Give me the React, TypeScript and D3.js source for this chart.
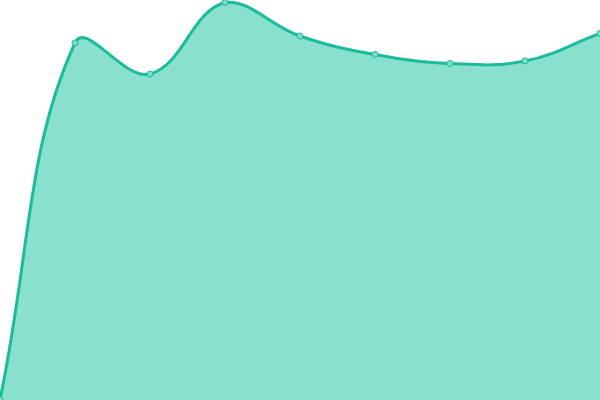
import React, { useEffect, useRef } from 'react';
import * as d3 from 'd3';

// x categories (evenly spaced across the width)
const categories = ['A', 'B', 'C', 'D', 'E', 'F', 'G', 'H', 'I'];
// values (y axis runs 0..400, bottom to top)
const values = [0.5, 357, 326, 397.5, 364, 345.5, 336.5, 339, 366.5];

const W = 600;
const H = 400;
const TENSION = 0.4;

type Pt = { x: number; y: number };

// spline with tension, control points scaled by neighbour distances
const splinePath = (pts: Pt[]) => {
  const clampX = (v: number) => Math.max(0, Math.min(W, v));
  const clampY = (v: number) => Math.max(0, Math.min(H, v));
  const cps = pts.map((cur, i) => {
    const prev = pts[i - 1] || cur;
    const next = pts[i + 1] || cur;
    const d01 = Math.hypot(cur.x - prev.x, cur.y - prev.y);
    const d12 = Math.hypot(next.x - cur.x, next.y - cur.y);
    const s01 = d01 / (d01 + d12) || 0;
    const s12 = d12 / (d01 + d12) || 0;
    const fa = TENSION * s01;
    const fb = TENSION * s12;
    return {
      prev: { x: clampX(cur.x - fa * (next.x - prev.x)), y: clampY(cur.y - fa * (next.y - prev.y)) },
      next: { x: clampX(cur.x + fb * (next.x - prev.x)), y: clampY(cur.y + fb * (next.y - prev.y)) },
    };
  });
  const p = d3.path();
  pts.forEach((pt, i) => {
    if (i === 0) p.moveTo(pt.x, pt.y);
    else p.bezierCurveTo(cps[i - 1].next.x, cps[i - 1].next.y, cps[i].prev.x, cps[i].prev.y, pt.x, pt.y);
  });
  return p;
};

export default function App() {
  const svgRef = useRef<SVGSVGElement>(null);

  useEffect(() => {
    if (!svgRef.current) return;
    const svg = d3.select(svgRef.current);
    svg.selectAll('*').remove();

    const x = d3.scalePoint<string>().domain(categories).range([0, W]);
    const y = d3.scaleLinear().domain([0, 400]).range([H, 0]);

    const pts: Pt[] = categories.map((c, i) => ({ x: x(c) || 0, y: y(values[i]) }));

    const lineD = splinePath(pts).toString();
    const areaD = lineD + `L${pts[pts.length - 1].x},${y(0)}L${pts[0].x},${y(0)}Z`;

    svg.append('path')
      .attr('d', areaD)
      .attr('fill', '#8ae0cf');

    svg.append('path')
      .attr('d', lineD)
      .attr('fill', 'none')
      .attr('stroke', '#1abc9c')
      .attr('stroke-width', 3);

    svg.selectAll('.pt')
      .data(pts)
      .enter()
      .append('circle')
      .attr('class', 'pt')
      .attr('cx', d => d.x)
      .attr('cy', d => d.y)
      .attr('r', 3)
      .attr('fill', '#7fdcc8')
      .attr('stroke', '#1abc9c')
      .attr('stroke-width', 1);
  }, []);

  return (
    <svg
      ref={svgRef}
      width={W}
      height={H}
      style={{ position: 'fixed', top: 0, left: 0, background: '#fff' }}
    />
  );
}
